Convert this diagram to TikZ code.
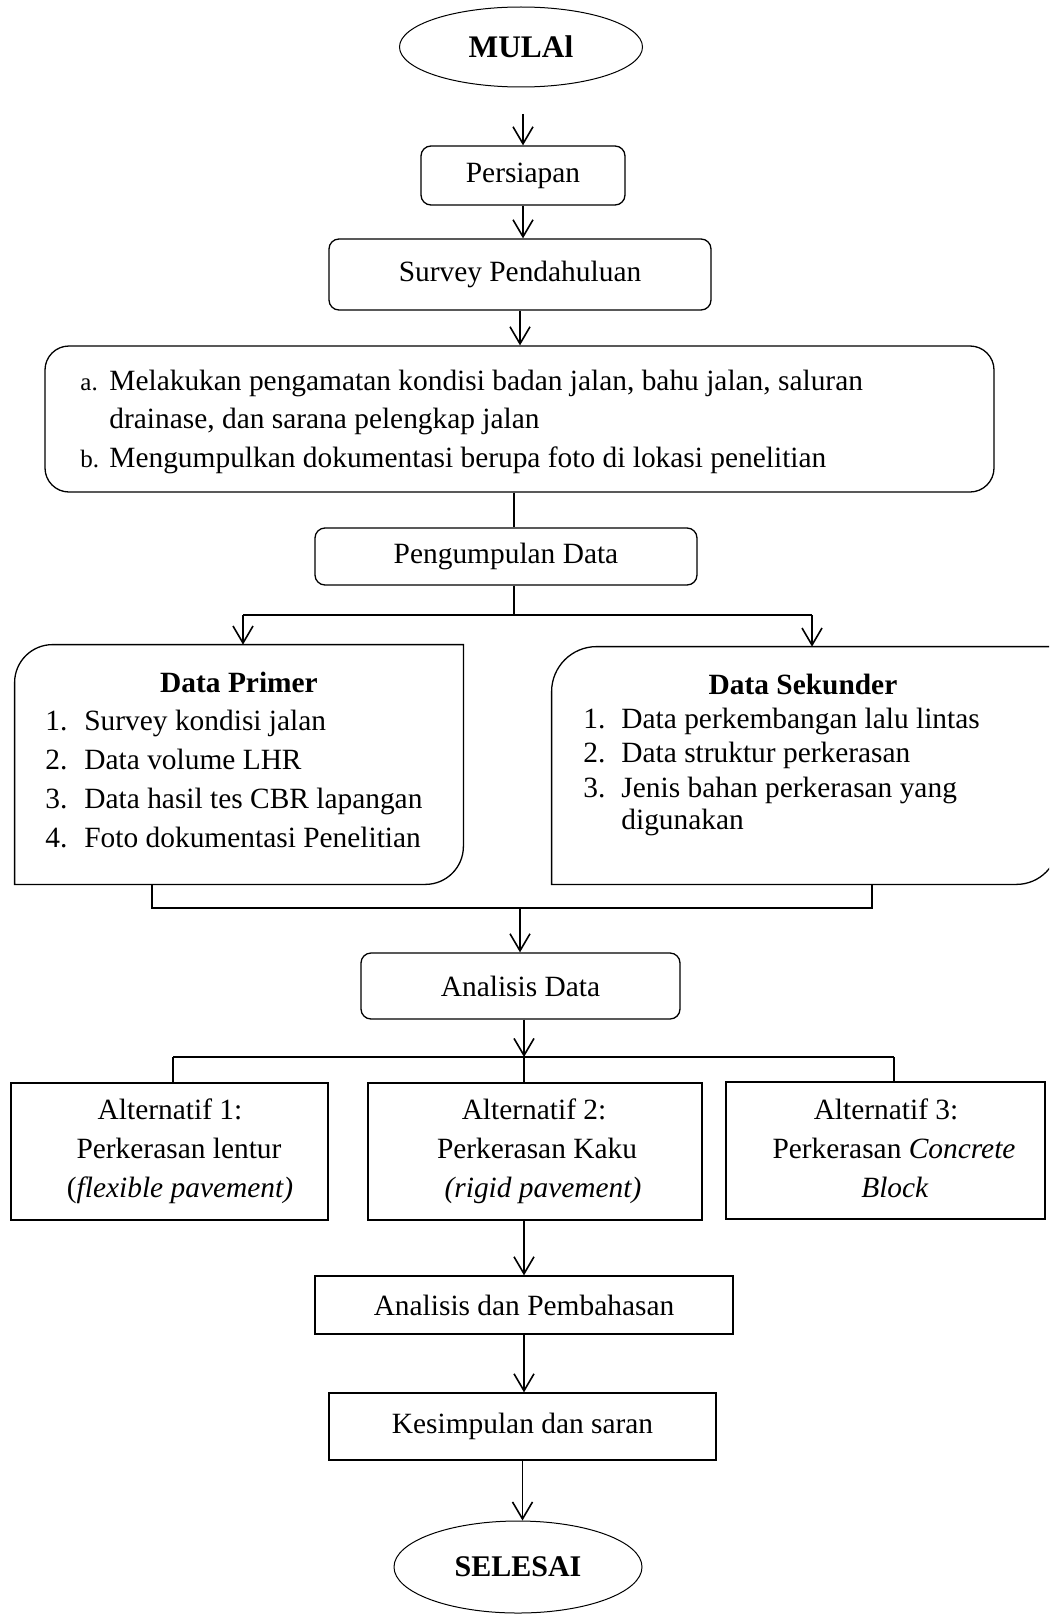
\documentclass[tikz,border=0pt]{standalone}
\usepackage{fontspec}
\setmainfont{Liberation Serif}
\usetikzlibrary{shapes.geometric,arrows.meta}
\newcommand{\fsmain}{\fontsize{14.7pt}{19.25pt}\selectfont}
\tikzset{
  every node/.style={font=\fsmain, inner sep=0pt},
  box/.style={draw, rectangle, line width=0.65pt},
  rbox/.style={box, rounded corners=5pt},
  term/.style={draw, ellipse, line width=0.5pt},
  arr/.style={line width=0.8pt, -{Straight Barb[length=8.5pt,width=10pt]}},
  conn/.style={line width=0.8pt},
  ttl/.style={anchor=base, font=\fsmain\bfseries},
  itm/.style={anchor=base west},
  ctr/.style={anchor=base},
  lbl/.style={anchor=base west, font=\fontsize{12.5pt}{15pt}\selectfont},
  alt/.style={box, minimum height=68.5pt}
}
\begin{document}
\begin{tikzpicture}[x=0.5pt,y=-0.5pt]
\useasboundingbox (0,0) rectangle (1049,1616);
\begin{scope}
\clip (0,0) rectangle (1049,1616);

% start
\node[term, minimum width=121.5pt, minimum height=40pt, font=\fontsize{15.7pt}{19pt}\selectfont\bfseries] (mulai) at (521,47) {MULAl};
\coordinate (a0) at (523,114);
\node[rbox, minimum width=102pt, minimum height=29.5pt] (pers) at (523,175.5) {Persiapan};
\draw[arr] (a0) -- (pers);
\node[rbox, minimum width=191pt, minimum height=35.5pt] (surv) at (520,274.5) {Survey Pendahuluan};
\draw[arr] (pers.south) -- (pers.south |- surv.north);

% observation box
\node[box, rounded corners=12pt, minimum width=474.5pt, minimum height=73pt] (obs) at (519.5,419) {};
\draw[arr] (surv.south) -- (surv.south |- obs.north);
\node[lbl] (la) at (80,390) {a.};
\node[itm] (ta1) at (109,390) {Melakukan pengamatan kondisi badan jalan, bahu jalan, saluran};
\node[itm] (ta2) at (109,428) {drainase, dan sarana pelengkap jalan};
\node[lbl] (lb) at (80,467) {b.};
\node[itm] (tb) at (109,467) {Mengumpulkan dokumentasi berupa foto di lokasi penelitian};

% data collection
\node[rbox, minimum width=191pt, minimum height=28.5pt] (peng) at (506,556.5) {Pengumpulan Data};
\coordinate (x514) at (514,0);
\draw[conn] (obs.south -| x514) -- (peng.north -| x514);
\coordinate (bj) at (514,615);
\coordinate (bl) at (243,615);
\coordinate (br) at (812,615);
\draw[conn] (peng.south -| bj) -- (bj);
\draw[conn] (bl) -- (br);

% data primer / sekunder
\node[minimum width=224pt, minimum height=119.5pt] (dp) at (239,764.5) {};
\node[minimum width=253pt, minimum height=118.5pt] (ds) at (805,765.5) {};
\draw[line width=0.65pt] ([yshift=-19pt]dp.north west) arc[start angle=180,end angle=90,radius=19pt]
  -- (dp.north east) -- ([yshift=19pt]dp.south east) arc[start angle=0,end angle=-90,radius=19pt]
  -- (dp.south west) -- cycle;
\draw[line width=0.65pt] ([yshift=-22.5pt]ds.north west) arc[start angle=180,end angle=90,radius=22.5pt]
  -- (ds.north east) -- ([yshift=21pt]ds.south east) arc[start angle=0,end angle=-90,radius=21pt]
  -- (ds.south west) -- cycle;
\draw[arr] (bl) -- (bl |- dp.north);
\draw[arr] (br) -- (br |- ds.north);

\node[ttl] (dpt) at (239,692) {Data Primer};
\node[itm] (p1n) at (45,730) {1.};
\node[itm] (p1) at (84,730) {Survey kondisi jalan};
\node[itm] (p2n) at (45,769) {2.};
\node[itm] (p2) at (84,769) {Data volume LHR};
\node[itm] (p3n) at (45,808) {3.};
\node[itm] (p3) at (84,808) {Data hasil tes CBR lapangan};
\node[itm] (p4n) at (45,847) {4.};
\node[itm] (p4) at (84,847) {Foto dokumentasi Penelitian};

\node[ttl] (dst) at (803,694) {Data Sekunder};
\node[itm] (s1n) at (583,728) {1.};
\node[itm] (s1) at (621,728) {Data perkembangan lalu lintas};
\node[itm] (s2n) at (583,762) {2.};
\node[itm] (s2) at (621,762) {Data struktur perkerasan};
\node[itm] (s3n) at (583,797) {3.};
\node[itm] (s3) at (621,797) {Jenis bahan perkerasan yang};
\node[itm] (s3b) at (621,829) {digunakan};

% join
\coordinate (jl) at (152,908);
\coordinate (jr) at (872,908);
\coordinate (jm) at (520,908);
\draw[conn] (dp.south -| jl) -- (jl) -- (jr) -- (ds.south -| jr);
\node[rbox, minimum width=159.5pt, minimum height=33pt] (ad) at (520.5,986) {Analisis Data};
\draw[arr] (jm) -- (jm |- ad.north);

% alternatives
\coordinate (am) at (524,1057);
\coordinate (al) at (173,1057);
\coordinate (ar) at (894,1057);
\draw[arr] (ad.south -| am) -- (am);
\draw[conn] (al) -- (ar);
\node[alt, minimum width=158.5pt] (a1) at (169.5,1151.5) {};
\node[alt, minimum width=167pt] (a2) at (535,1151.5) {};
\node[alt, minimum width=159.5pt] (a3) at (885.5,1150.5) {};
\draw[conn] (al) -- (al |- a1.north);
\draw[conn] (am) -- (am |- a2.north);
\draw[conn] (ar) -- (ar |- a3.north);

\node[ctr] (a1l1) at (170,1119) {Alternatif 1:};
\node[ctr] (a1l2) at (179,1158.5) {Perkerasan lentur};
\node[ctr] (a1l3) at (180,1197.5) {(\textit{flexible pavement)}};
\node[ctr] (a2l1) at (534,1119) {Alternatif 2:};
\node[ctr] (a2l2) at (537,1158.5) {Perkerasan Kaku};
\node[ctr] (a2l3) at (543,1197.5) {\textit{(rigid pavement)}};
\node[ctr] (a3l1) at (886,1119) {Alternatif 3:};
\node[ctr] (a3l2) at (894,1158.5) {Perkerasan \textit{Concrete}};
\node[ctr] (a3l3) at (895,1197.5) {\textit{Block}};

% end part
\node[box, minimum width=209pt, minimum height=29pt] (adp) at (524,1305) {Analisis dan Pembahasan};
\draw[arr] (a2.south -| am) -- (adp.north -| am);
\node[box, minimum width=193.5pt, minimum height=33.5pt] (kes) at (522.5,1426.5) {Kesimpulan dan saran};
\draw[arr] (adp.south) -- (adp.south |- kes.north);
\node[term, minimum width=124pt, minimum height=46pt, font=\fontsize{15pt}{19pt}\selectfont\bfseries] (sel) at (518,1567) {SELESAI};
\draw[arr] (kes.south) -- (kes.south |- sel.north);
\end{scope}
\end{tikzpicture}
\end{document}
